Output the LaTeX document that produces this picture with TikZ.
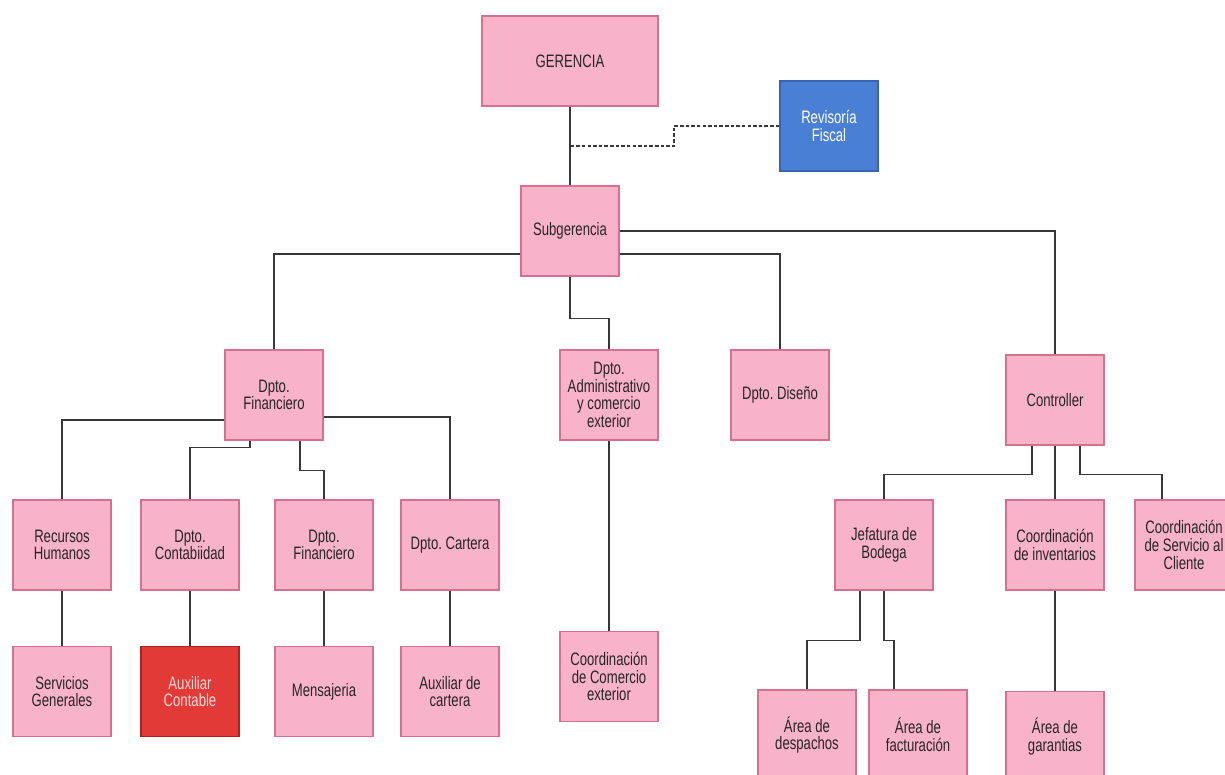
\documentclass[tikz,border=0pt]{standalone}
\usepackage{fontspec}
\setmainfont{Liberation Sans}[FakeStretch=0.73]
\usepackage{tikz}
\usetikzlibrary{positioning}
\usetikzlibrary{calc}
\usepackage{xcolor}
\definecolor{boxpink}{RGB}{248,178,201}
\definecolor{boxedge}{RGB}{214,112,142}
\definecolor{fiscblue}{RGB}{74,127,214}
\definecolor{fiscedge}{RGB}{58,100,176}
\definecolor{auxred}{RGB}{226,58,55}
\definecolor{auxedge}{RGB}{178,32,32}
\definecolor{linkgray}{RGB}{55,55,55}
\frenchspacing

\begin{document}
\begin{tikzpicture}[
  x=0.025cm, y=-0.025cm,
  font=\fontsize{12.8}{12.6}\selectfont,
  unit/.style={draw=boxedge, line width=1.1pt, fill=boxpink, align=center, minimum width=2.45cm, minimum height=2.25cm, inner sep=1pt, text=black!85},
  fiscal/.style={unit, draw=fiscedge, fill=fiscblue, text=white},
  redunit/.style={unit, draw=auxedge, fill=auxred, text=red!15},
  link/.style={draw=linkgray, line width=0.9pt},
  dashedlink/.style={draw=linkgray, line width=1.3pt, dash pattern=on 2.5pt off 1.5pt}
]
\useasboundingbox (0,0) rectangle (1225,775);

% top levels
\node[unit, minimum width=4.4cm] (ger) at (570,61) {GERENCIA};
\node[fiscal] (rev) at (829,126) {Revisoría\\Fiscal};
\node[unit] (sub) at (570,231) {Subgerencia};
\coordinate (tie) at (570,146);

% departments
\node[unit] (fin) at (274,395) {Dpto.\\Financiero};
\node[unit] (adm) at (609,395) {Dpto.\\Administrativo\\y comercio\\exterior};
\node[unit] (dis) at (780,395) {Dpto. Diseño};
\node[unit] (ctrl) at (1055,400) {Controller};

% under Dpto. Financiero
\node[unit] (rrhh) at (62,545) {Recursos\\Humanos};
\node[unit] (cont) at (190,545) {Dpto.\\Contabiidad};
\node[unit] (fintwo) at (324,545) {Dpto.\\Financiero};
\node[unit] (cart) at (450,545) {Dpto. Cartera};
\node[unit, below=1.375cm of rrhh] (servg) {Servicios\\Generales};
\node[redunit, below=1.375cm of cont] (auxc) {Auxiliar\\Contable};
\node[unit, below=1.375cm of fintwo] (mens) {Mensajeria};
\node[unit, below=1.375cm of cart] (auxcart) {Auxiliar de\\cartera};
\node[unit, below=4.75cm of adm] (comext) {Coordinación\\de Comercio\\exterior};

% under Controller
\node[unit] (jef) at (884,545) {Jefatura de\\Bodega};
\node[unit] (inv) at (1055,545) {Coordinación\\de inventarios};
\node[unit] (servc) at (1184,545) {Coordinación\\de Servicio al\\Cliente};
\node[unit] (desp) at (807,735) {Área de\\despachos};
\node[unit] (fact) at (918,735) {Área de\\facturación};
\node[unit, below=2.5cm of inv] (gar) {Área de\\garantias};

% connectors
\draw[link] (ger) -- (sub);
\draw[dashedlink] (rev.west) -- ++(-105,0) |- (tie);
\draw[link] ([yshift=-0.575cm]sub.west) -| (fin.north);
\draw[link] (sub.south) -- ++(0,42) -| (adm.north);
\draw[link] ([yshift=-0.575cm]sub.east) -| (dis.north);
\draw[link] (sub.east) -| (ctrl.north);

\draw[link] ([yshift=-0.625cm]fin.west) -| (rrhh.north);
\draw[link] ([xshift=-0.6cm]fin.south) -- ++(0,7) -| (cont.north);
\draw[link] ([xshift=0.65cm]fin.south) -- ++(0,30) -| (fintwo.north);
\draw[link] ([yshift=-0.55cm]fin.east) -| (cart.north);
\draw[link] (rrhh) -- (servg);
\draw[link] (cont) -- (auxc);
\draw[link] (fintwo) -- (mens);
\draw[link] (cart) -- (auxcart);
\draw[link] (adm) -- (comext);

\draw[link] ([xshift=-0.575cm]ctrl.south) -- ++(0,29) -| (jef.north);
\draw[link] (ctrl) -- (inv);
\draw[link] ([xshift=0.625cm]ctrl.south) -- ++(0,29) -| ([xshift=-0.55cm]servc.north);
\draw[link] ([xshift=-0.6cm]jef.south) -- ++(0,50) -| (desp.north);
\draw[link] (jef.south) -- ++(0,50) -| ([xshift=-0.6cm]fact.north);
\draw[link] (inv) -- (gar);

\end{tikzpicture}
\end{document}
